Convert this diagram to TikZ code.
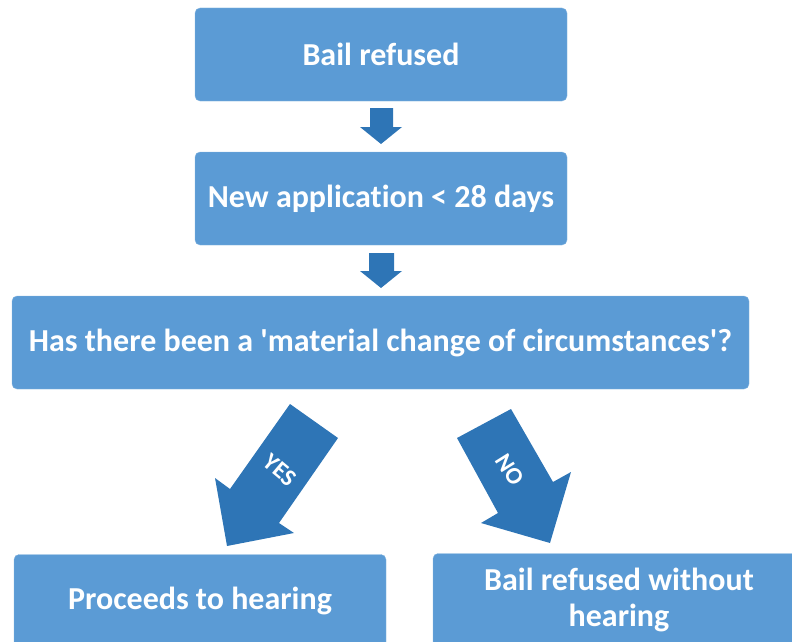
\documentclass[tikz,border=0pt]{standalone}
\usepackage{fontspec}
\setmainfont{Carlito}[Ligatures=NoCommon]
\definecolor{boxblue}{HTML}{5B9BD5}
\definecolor{arrowblue}{HTML}{2E75B6}
\tikzset{stage/.style={rectangle,rounded corners=5pt,fill=boxblue,draw=boxblue!75!white,
  text=white,font=\fontsize{32}{36}\selectfont\bfseries,align=center,inner sep=0pt,
  minimum width=372pt,minimum height=93pt},
  blockarrow/.style={fill=arrowblue,draw=none},
  arrowtext/.style={text=white,font=\fontsize{24}{26}\selectfont\bfseries}}

\begin{document}
\begin{tikzpicture}[x=1pt,y=-1pt]
\useasboundingbox (0,0) rectangle (792,642);
\node[stage] (refused) at (381,54.5) {Bail refused};
\node[stage] (newapp) at (381,198.5) {New application < 28 days};
\node[stage,minimum width=737pt] (change) at (380.5,342.5) {Has there been a \textquotesingle material change of circumstances\textquotesingle?};
\node[stage] (hearing) at (200,601) {Proceeds to hearing};
\node[stage] (nohearing) at (619,600) {Bail refused without\\hearing};
% small down arrows
\fill[blockarrow] (370,108) -- (393,108) -- (393,127) -- (402,127) -- (381,144) -- (360,127) -- (370,127) -- cycle;
\fill[blockarrow] (369,253) -- (394,253) -- (394,271) -- (402,271) -- (381,288) -- (360,271) -- (369,271) -- cycle;
% yes / no arrows
\fill[blockarrow] (290,404) -- (338,438) -- (279,523) -- (294,533) -- (227,546) -- (215,478) -- (230,489) -- cycle;
\fill[blockarrow] (457,438) -- (511,409) -- (553,482) -- (571,472) -- (550,543) -- (481,523) -- (498,513) -- cycle;
\node[arrowtext,rotate=-40] (yes) at (280,470) {YES};
\node[arrowtext,rotate=-58] (no) at (510,470) {NO};
\end{tikzpicture}
\end{document}
